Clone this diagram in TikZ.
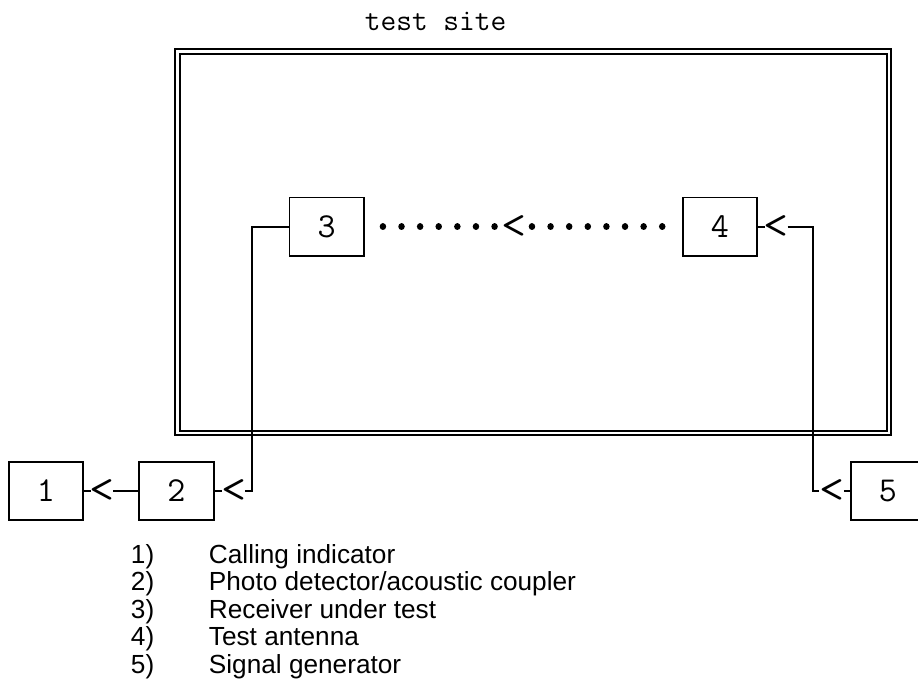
\documentclass[tikz,border=0pt]{standalone}
\usepackage{fontspec}
\usepackage{graphicx}
\setmainfont{Liberation Sans}
\newcommand\lessglyph{\scalebox{1.35}[1.15]{<}}
\begin{document}
\begin{tikzpicture}[x=1pt,y=-1pt, line width=1.9pt,
  box/.style={draw, minimum width=74.5pt, minimum height=58.5pt, inner sep=0pt,
    font=\ttfamily\fontsize{35}{35}\selectfont},
  lt/.style={inner sep=0pt, font=\ttfamily\fontsize{36}{36}\selectfont},
  tolt/.style={shorten >=-2pt},
  fromlt/.style={shorten <=-2pt},
  dotline/.style={line width=6.5pt, line cap=round, dash pattern=on 0.01pt off 18.6pt},
  leg/.style={anchor=base west, inner sep=0pt, font=\fontsize{26.2}{27.5}\selectfont}]
\clip (0,0) rectangle (918,693);
\useasboundingbox (0,0) rectangle (918,693);
% title
\node[anchor=base west, inner sep=0pt, font=\ttfamily\fontsize{30.5}{30.5}\selectfont] (title) at (364,31) {test site};
% test site frame
\draw (175,49.3) rectangle (890.7,434.7);
\draw (180,54.3) rectangle (886.7,430.7);
% boxes
\node[box] (n1) at (45.8,491) {1};
\node[box] (n2) at (176.5,491) {2};
\node[box] (n3) at (326.7,226.7) {3};
\node[box] (n4) at (720,226.7) {4};
\node[box] (n5) at (888,491) {5};
% arrow glyphs
\node[lt] (a12) at (102,491) {\lessglyph};
\node[lt] (a2) at (233.7,491) {\lessglyph};
\node[lt] (a4) at (776.2,226.7) {\lessglyph};
\node[lt] (a5) at (832.5,491) {\lessglyph};
\node[lt] (ad) at (514.5,226.7) {\lessglyph};
\coordinate (c2) at (251.7,491);
\coordinate (c5) at (813.3,491);
% connectors
\draw[tolt] (n1.east) -- (a12);
\draw[fromlt] (a12) -- (n2.west);
\draw[tolt] (n2.east) -- (a2);
\draw[fromlt] (a2) -- (c2) |- (n3.west);
\draw[tolt] (n4.east) -- (a4);
\draw[fromlt] (a4) -| (c5) -- (a5);
\draw[fromlt] (a5) -- (n5.west);
\draw[dotline, shorten <=18pt] (n3.east) -- (ad);
\draw[dotline, shorten <=4pt, shorten >=14pt] (ad) -- (n4.west);
% legend
\node[leg] (k1) at (130,563) {1)};
\node[leg] (k2) at (130,590.5) {2)};
\node[leg] (k3) at (130,618) {3)};
\node[leg] (k4) at (130,645.5) {4)};
\node[leg] (k5) at (130,673) {5)};
\node[leg] (t1) at (208,563) {Calling indicator};
\node[leg] (t2) at (208,590.5) {Photo detector/acoustic coupler};
\node[leg] (t3) at (208,618) {Receiver under test};
\node[leg] (t4) at (208,645.5) {Test antenna};
\node[leg] (t5) at (208,673) {Signal generator};
\end{tikzpicture}
\end{document}
